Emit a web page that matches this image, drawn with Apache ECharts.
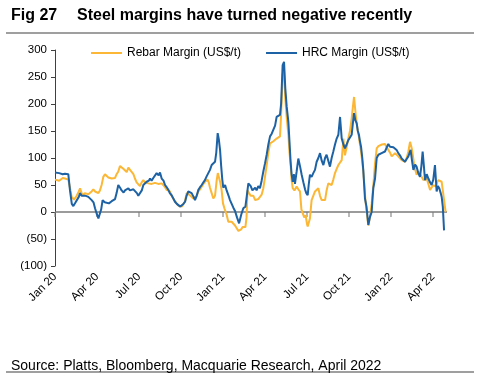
<!DOCTYPE html>
<html>
<head>
<meta charset="utf-8">
<script src="https://cdn.jsdelivr.net/npm/echarts@6/dist/echarts.min.js"></script>
<style>
html,body{margin:0;padding:0;background:#fff;}
#chart{width:487px;height:382px;}
</style>
</head>
<body>
<div id="chart"></div>
<script>
// x = months since Jan 2020
const tickLabels = ['Jan 20','Apr 20','Jul 20','Oct 20','Jan 21','Apr 21','Jul 21','Oct 21','Jan 22','Apr 22'];
const yTicks = [-100,-50,0,50,100,150,200,250,300];
const seriesNames = ['Rebar Margin (US$/t)','HRC Margin (US$/t)'];
const xRange = [0, 28];

const rebar = [[0,60],[0.3,58],[0.55,63],[0.71,62],[0.95,60],[1.07,45],[1.19,28],[1.36,23],[1.55,30],[1.7,38],[1.79,44],[1.9,35],[2.0,31],[2.13,35],[2.26,38],[2.38,33],[2.5,34],[2.62,38],[2.74,42],[2.86,38],[2.98,36],[3.1,35],[3.21,40],[3.33,50],[3.45,65],[3.57,70],[3.69,68],[3.81,64],[3.93,63],[4.05,62],[4.17,64],[4.29,63],[4.4,70],[4.52,75],[4.64,85],[4.76,85],[4.88,80],[5.0,78],[5.12,74],[5.24,82],[5.36,78],[5.48,75],[5.6,70],[5.71,62],[5.83,55],[5.95,55],[6.07,48],[6.19,55],[6.31,59],[6.43,55],[6.55,57],[6.67,53],[6.79,56],[6.9,52],[7.02,50],[7.14,54],[7.26,56],[7.38,52],[7.5,50],[7.62,53],[7.74,50],[7.86,46],[7.98,41],[8.1,40],[8.21,38],[8.33,30],[8.45,25],[8.57,20],[8.69,16],[8.81,12],[8.93,9],[9.05,10],[9.17,12],[9.29,20],[9.4,35],[9.52,33],[9.64,31],[9.76,28],[9.88,25],[10.0,22],[10.12,30],[10.24,38],[10.36,42],[10.48,47],[10.6,52],[10.71,56],[10.82,59],[10.9,60],[10.98,55],[11.07,45],[11.19,35],[11.31,25],[11.43,30],[11.55,59],[11.63,72],[11.71,75],[11.8,55],[11.9,41],[12.0,16],[12.1,7],[12.26,-5],[12.38,-18],[12.5,-17],[12.62,-18],[12.74,-18],[12.86,-25],[12.98,-30],[13.1,-35],[13.21,-38],[13.3,-32],[13.4,-28],[13.5,-27],[13.6,-28],[13.68,-10],[13.75,40],[13.86,35],[13.98,30],[14.1,27],[14.17,30],[14.3,22],[14.4,19],[14.52,24],[14.64,25],[14.76,32],[14.88,44],[15.0,65],[15.12,87],[15.24,110],[15.36,127],[15.48,125],[15.6,131],[15.72,128],[15.83,136],[15.95,138],[16.07,140],[16.15,180],[16.26,255],[16.36,262],[16.45,210],[16.55,175],[16.67,143],[16.75,110],[16.83,87],[16.9,60],[16.98,44],[17.1,40],[17.26,47],[17.38,42],[17.5,38],[17.6,5],[17.69,2],[17.8,-10],[17.9,-6],[18.0,-22],[18.05,-27],[18.12,-30],[18.21,-12],[18.33,22],[18.45,30],[18.57,38],[18.69,40],[18.81,44],[18.93,30],[19.05,22],[19.17,25],[19.29,22],[19.4,40],[19.52,53],[19.64,55],[19.76,50],[19.88,60],[20.0,72],[20.12,80],[20.24,87],[20.36,90],[20.48,96],[20.6,136],[20.71,105],[20.83,120],[20.95,136],[21.07,150],[21.19,173],[21.28,195],[21.36,213],[21.48,180],[21.6,155],[21.7,140],[21.79,124],[21.87,110],[21.95,93],[22.02,75],[22.1,50],[22.18,20],[22.26,0],[22.38,-25],[22.5,-9],[22.62,15],[22.74,50],[22.86,90],[22.98,118],[23.1,122],[23.21,124],[23.35,125],[23.45,122],[23.57,126],[23.69,120],[23.81,118],[23.93,110],[24.05,103],[24.17,105],[24.29,109],[24.4,106],[24.52,103],[24.64,100],[24.76,96],[24.88,95],[25.0,93],[25.12,100],[25.24,112],[25.36,130],[25.48,118],[25.56,105],[25.64,90],[25.74,78],[25.83,69],[25.95,75],[26.07,72],[26.19,65],[26.31,59],[26.43,62],[26.55,62],[26.67,52],[26.79,41],[26.9,44],[27.02,50],[27.12,48],[27.21,47],[27.3,55],[27.38,59],[27.5,58],[27.62,56],[27.7,40],[27.79,22],[27.9,0]];

const hrc = [[0,73],[0.3,72],[0.55,70],[0.71,71],[0.95,70],[1.07,40],[1.2,15],[1.31,11],[1.45,17],[1.55,19],[1.7,28],[1.79,35],[1.9,30],[2.0,28],[2.2,30],[2.38,28],[2.5,25],[2.62,22],[2.75,18],[2.86,7],[3.0,-5],[3.1,-12],[3.21,-9],[3.3,5],[3.4,22],[3.55,18],[3.69,19],[3.85,16],[4.05,20],[4.29,24],[4.4,35],[4.52,50],[4.65,45],[4.76,40],[4.9,36],[5.0,40],[5.1,38],[5.24,44],[5.35,40],[5.48,37],[5.6,42],[5.71,40],[5.85,35],[5.95,30],[6.07,27],[6.2,40],[6.31,50],[6.45,52],[6.55,56],[6.7,58],[6.79,62],[6.9,58],[7.02,63],[7.15,65],[7.26,72],[7.4,68],[7.5,73],[7.62,62],[7.75,58],[7.86,50],[8.0,45],[8.1,41],[8.2,35],[8.33,31],[8.45,25],[8.57,19],[8.7,15],[8.81,13],[8.95,10],[9.05,13],[9.17,15],[9.29,19],[9.4,30],[9.52,38],[9.64,36],[9.76,35],[9.9,28],[10.0,22],[10.12,30],[10.24,41],[10.36,46],[10.48,50],[10.6,55],[10.71,59],[10.83,66],[10.95,72],[11.07,78],[11.19,87],[11.31,88],[11.43,93],[11.52,110],[11.62,146],[11.7,135],[11.79,115],[11.87,85],[11.95,60],[12.02,45],[12.15,50],[12.26,40],[12.4,30],[12.5,22],[12.62,15],[12.74,8],[12.86,2],[13.0,-10],[13.15,-21],[13.3,-5],[13.45,7],[13.6,10],[13.7,30],[13.81,53],[13.98,48],[14.1,40],[14.17,38],[14.3,45],[14.4,40],[14.52,48],[14.64,44],[14.76,58],[14.88,75],[15.0,90],[15.12,106],[15.24,125],[15.36,140],[15.48,145],[15.6,146],[15.72,160],[15.83,176],[15.95,178],[16.07,180],[16.15,200],[16.26,272],[16.36,278],[16.45,229],[16.55,195],[16.67,167],[16.75,130],[16.83,93],[16.9,70],[16.98,56],[17.06,70],[17.14,52],[17.26,75],[17.38,99],[17.5,85],[17.62,69],[17.74,55],[17.86,42],[17.95,35],[18.05,31],[18.12,50],[18.21,69],[18.33,65],[18.45,72],[18.57,78],[18.69,93],[18.81,100],[18.93,109],[19.05,95],[19.17,87],[19.29,100],[19.4,106],[19.52,95],[19.64,84],[19.76,100],[19.88,112],[20.0,125],[20.12,136],[20.24,143],[20.36,176],[20.48,136],[20.6,125],[20.71,118],[20.83,125],[20.95,133],[21.07,138],[21.19,143],[21.28,165],[21.36,183],[21.45,170],[21.55,164],[21.63,150],[21.71,143],[21.79,130],[21.86,121],[21.95,100],[22.02,78],[22.14,25],[22.25,10],[22.38,-24],[22.5,-9],[22.62,0],[22.69,28],[22.74,45],[22.86,62],[22.98,100],[23.1,106],[23.21,109],[23.33,109],[23.45,110],[23.57,112],[23.69,115],[23.81,126],[23.93,121],[24.05,118],[24.17,120],[24.29,122],[24.4,115],[24.52,109],[24.64,105],[24.76,99],[24.88,96],[25.0,93],[25.12,98],[25.24,103],[25.4,115],[25.5,95],[25.6,78],[25.72,88],[25.83,84],[25.95,72],[26.07,65],[26.17,85],[26.26,112],[26.35,85],[26.43,59],[26.55,70],[26.67,62],[26.79,55],[26.9,50],[27.02,60],[27.14,87],[27.26,38],[27.35,48],[27.45,44],[27.55,35],[27.62,28],[27.7,10],[27.79,-34]];

const FONT = '"Liberation Sans", Arial, sans-serif';
const tickValues = tickLabels.map((_, i) => i * 3);

const chart = echarts.init(document.getElementById('chart'), null, {renderer: 'canvas'});
chart.setOption({
  animation: false,
  backgroundColor: '#ffffff',
  textStyle: {fontFamily: FONT},
  title: [
    {text: 'Fig 27', left: 6, top: 3, textStyle: {fontFamily: FONT, fontSize: 16, fontWeight: 'bold', color: '#000'}},
    {text: 'Steel margins have turned negative recently', left: 72, top: 3, textStyle: {fontFamily: FONT, fontSize: 16, fontWeight: 'bold', color: '#000'}},
    {text: 'Source: Platts, Bloomberg, Macquarie Research, April 2022', left: 6, top: 354, textStyle: {fontFamily: FONT, fontSize: 14, fontWeight: 'normal', color: '#000'}}
  ],
  graphic: [
    {type: 'line', shape: {x1: 6, y1: 33, x2: 474, y2: 33}, style: {stroke: '#404040', lineWidth: 1.2}},
    {type: 'line', shape: {x1: 6, y1: 372, x2: 474, y2: 372}, style: {stroke: '#404040', lineWidth: 1.2}}
  ],
  legend: {
    left: 86, top: 42, itemWidth: 31, itemHeight: 2, itemGap: 25, icon: 'rect',
    data: seriesNames,
    textStyle: {fontFamily: FONT, fontSize: 12, color: '#000'}
  },
  grid: {left: 55, right: 40, top: 50, bottom: 116, containLabel: false},
  xAxis: {
    type: 'value', min: xRange[0], max: xRange[1], position: 'bottom',
    axisLine: {show: false, onZero: false},
    axisTick: {show: false},
    splitLine: {show: false},
    axisLabel: {
      customValues: tickValues, rotate: 45, margin: 9,
      fontFamily: FONT, fontSize: 11.5, color: '#000',
      formatter: v => tickLabels[Math.round(v / 3)] || ''
    }
  },
  yAxis: {
    type: 'value', min: -100, max: 300, interval: 50,
    axisLine: {show: true, onZero: false, lineStyle: {color: '#404040', width: 1}},
    axisTick: {show: true, length: 4, lineStyle: {color: '#404040'}},
    splitLine: {show: false},
    axisLabel: {
      margin: 8, fontFamily: FONT, fontSize: 11.5, color: '#000',
      formatter: v => v < 0 ? '(' + (-v) + ')' : String(v)
    }
  },
  series: [
    {name: 'zeroLine', type: 'line', data: xRange.map(v => [v, 0]), symbol: 'none', silent: true,
      lineStyle: {color: '#7a7a7a', width: 1.3}, z: 1},
    {name: 'zeroTicks', type: 'scatter', data: tickValues.map(v => [v, 0]), symbol: 'rect',
      symbolSize: [1.3, 5], symbolOffset: [0, 2.5], itemStyle: {color: '#7a7a7a'}, silent: true, z: 1},
    {name: seriesNames[0], type: 'line', data: rebar, symbol: 'none', color: '#FBB735',
      lineStyle: {width: 2, color: '#FBB735'}, z: 2},
    {name: seriesNames[1], type: 'line', data: hrc, symbol: 'none', color: '#1D62A5',
      lineStyle: {width: 2, color: '#1D62A5'}, z: 3}
  ]
});
</script>
</body>
</html>
